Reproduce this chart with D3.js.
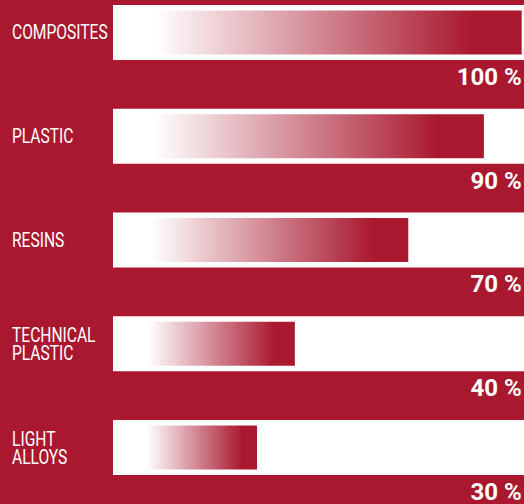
<!DOCTYPE html>
<html>
<head>
<meta charset="utf-8">
<script src="https://cdn.jsdelivr.net/npm/d3@7/dist/d3.min.js"></script>
<style>
  html, body { margin: 0; padding: 0; background: #a9182f; }
  svg { display: block; }
</style>
</head>
<body>
<svg id="chart" width="524" height="504"></svg>
<script>
// ---- data ----
const categories = ["COMPOSITES", "PLASTIC", "RESINS", "TECHNICAL PLASTIC", "LIGHT ALLOYS"];
const values = [100, 90, 70, 40, 30];
const valueLabels = ["100 %", "90 %", "70 %", "40 %", "30 %"];

// ---- style ----
const W = 524, H = 504;
const RED = "#a9182f";
const bandLeft = 113;
const barInset = 5.5;
const labelScaleX = 0.8;

const svg = d3.select("#chart");
svg.append("rect").attr("width", W).attr("height", H).attr("fill", RED);

const defs = svg.append("defs");
const grad = defs.append("linearGradient").attr("id", "barGrad")
  .attr("x1", "0").attr("x2", "1").attr("y1", "0").attr("y2", "0");
[[0, "#ffffff"], [0.03, "#ffffff"], [0.87, RED], [1, RED]].forEach(([o, c]) =>
  grad.append("stop").attr("offset", o).attr("stop-color", c));

const y = d3.scaleBand().domain(categories).range([5, 475]).paddingInner(0.47).paddingOuter(0);
const x = d3.scaleLinear().domain([0, 100]).range([143.6, 521.7]);

const rows = categories.map((c, i) => ({ cat: c, value: values[i], label: valueLabels[i] }));

const g = svg.selectAll("g.row").data(rows).join("g").attr("class", "row");

// white band
g.append("rect")
  .attr("x", bandLeft)
  .attr("y", d => y(d.cat))
  .attr("width", W - bandLeft)
  .attr("height", y.bandwidth())
  .attr("fill", "#ffffff");

// gradient bar
g.append("rect")
  .attr("x", x(0))
  .attr("y", d => y(d.cat) + barInset)
  .attr("width", d => x(d.value) - x(0))
  .attr("height", y.bandwidth() - 2 * barInset)
  .attr("fill", "url(#barGrad)");

// category labels
g.each(function(d) {
  const lines = d.cat.split(" ");
  const cy = y(d.cat) + y.bandwidth() / 2;
  const lh = 18, cap = 14;
  const firstBase = cy - (lines.length - 1) * lh / 2 + cap / 2;
  const t = d3.select(this).append("text")
    .attr("transform", `translate(12,${firstBase}) scale(${labelScaleX},1)`)
    .attr("fill", "#ffffff")
    .attr("font-family", "Roboto, 'DejaVu Sans', sans-serif")
    .attr("font-weight", 400)
    .attr("font-size", 19.5);
  lines.forEach((ln, i) => t.append("tspan").attr("x", 0).attr("y", i * lh).text(ln));
});

// value labels
g.append("text")
  .attr("x", x(100))
  .attr("y", d => y(d.cat) + y.bandwidth() + 25)
  .attr("text-anchor", "end")
  .attr("fill", "#ffffff")
  .attr("font-family", "Roboto, 'DejaVu Sans', sans-serif")
  .attr("font-weight", 700)
  .attr("font-size", 24)
  .text(d => d.label);
</script>
</body>
</html>
